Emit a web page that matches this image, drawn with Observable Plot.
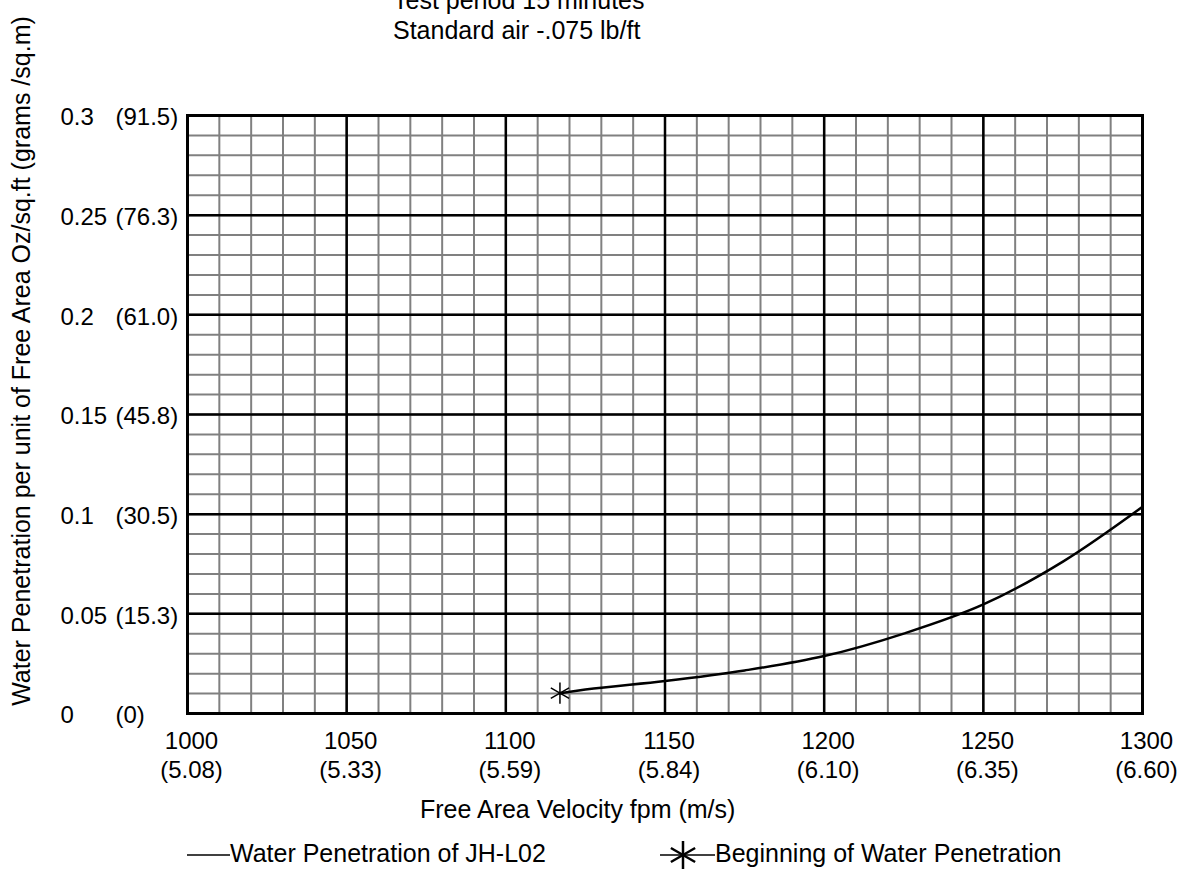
<!DOCTYPE html>
<html><head><meta charset="utf-8">
<script src="https://cdn.jsdelivr.net/npm/d3@7"></script>
<script src="https://cdn.jsdelivr.net/npm/@observablehq/plot@0.6"></script>
<style>
body{margin:0;background:#fff;font-family:Arial,"Liberation Sans",sans-serif;}
#wrap{position:relative;width:1190px;height:869px;overflow:hidden;background:#fff;}
#wrap svg.chart{position:absolute;left:0;top:0;}
.t{position:absolute;white-space:nowrap;font-size:25px;line-height:25px;color:#000;font-family:Arial,"Liberation Sans",sans-serif;}
.g{position:absolute;overflow:visible;}
</style></head><body><div id="wrap"></div>
<script>
// Data
const velocityFpm = [1117, 1125, 1150, 1175, 1200, 1225, 1250, 1275, 1300];
const penetration = [0.0102, 0.012, 0.0163, 0.0216, 0.0288, 0.0401, 0.0547, 0.0762, 0.1037];
const xTicks = [1000, 1050, 1100, 1150, 1200, 1250, 1300];
const xTickMs = ["(5.08)", "(5.33)", "(5.59)", "(5.84)", "(6.10)", "(6.35)", "(6.60)"];
const yTicks = [0, 0.05, 0.1, 0.15, 0.2, 0.25, 0.3];
const yTickOz = ["0", "0.05", "0.1", "0.15", "0.2", "0.25", "0.3"];
const yTickGrams = ["(0)", "(15.3)", "(30.5)", "(45.8)", "(61.0)", "(76.3)", "(91.5)"];
const titleLines = ["Test period 15 minutes", "Standard air -.075 lb/ft"];
const yTitle = "Water Penetration per unit of Free Area Oz/sq.ft  (grams /sq.m)";
const xTitle = "Free Area Velocity fpm (m/s)";
const legendLine = "Water Penetration of JH-L02";
const legendStart = "Beginning of Water Penetration";

const data = velocityFpm.map((v, i) => ({v, p: penetration[i]}));

const chart = Plot.plot({
  width: 1190,
  height: 869,
  marginLeft: 187,
  marginRight: 48,
  marginTop: 115,
  marginBottom: 156,
  style: {fontSize: "24px", fontFamily: "Arial, 'Liberation Sans', sans-serif", color: "#000", background: "transparent"},
  x: {domain: [1000, 1300]},
  y: {domain: [0, 0.3]},
  marks: [
    Plot.gridX({ticks: 30, stroke: "#808080", strokeOpacity: 1, strokeWidth: 2}),
    Plot.gridY({ticks: 30, stroke: "#808080", strokeOpacity: 1, strokeWidth: 2}),
    Plot.gridX({ticks: xTicks, stroke: "#000", strokeOpacity: 1, strokeWidth: 2.5}),
    Plot.gridY({ticks: yTicks, stroke: "#000", strokeOpacity: 1, strokeWidth: 2.5}),
    Plot.frame({stroke: "#000", strokeWidth: 3}),
    Plot.axisX({ticks: xTicks, tickSize: 0, tickPadding: 15, dx: 4, lineHeight: 1.2, label: null,
      tickFormat: d => d + "\n" + xTickMs[xTicks.indexOf(d)]}),
    Plot.axisY({ticks: yTicks, tickSize: 0, tickPadding: 0, textAnchor: "start", dx: 60 - 187, dy: 2, label: null,
      tickFormat: d => yTickOz[yTicks.indexOf(d)]}),
    Plot.axisY({ticks: yTicks, tickSize: 0, tickPadding: 0, textAnchor: "start", dx: 115 - 187, dy: 2, label: null,
      tickFormat: d => yTickGrams[yTicks.indexOf(d)]}),
    Plot.line(data, {x: "v", y: "p", curve: "monotone-x", stroke: "#000", strokeWidth: 2.5}),
    Plot.dot(data.slice(0, 1), {x: "v", y: "p", symbol: "asterisk", r: 10, stroke: "#000", strokeWidth: 1.5})
  ]
});
chart.classList.add("chart");
const wrap = document.getElementById("wrap");
wrap.appendChild(chart);

function addText(txt, left, top, extra) {
  const d = document.createElement("div");
  d.className = "t";
  d.textContent = txt;
  d.style.left = left + "px";
  d.style.top = top + "px";
  if (extra) Object.assign(d.style, extra);
  wrap.appendChild(d);
  return d;
}
addText(titleLines[0], 393, -12);
addText(titleLines[1], 393, 18);
addText(yTitle, 21, 361, {transform: "translate(-50%,-50%) rotate(-90deg)"});
addText(xTitle, 420, 797);
addText(legendLine, 230, 841);
addText(legendStart, 715, 841);

const ns = "http://www.w3.org/2000/svg";
function addSvg(left, top, w, h, inner) {
  const s = document.createElementNS(ns, "svg");
  s.setAttribute("class", "g");
  s.setAttribute("width", w);
  s.setAttribute("height", h);
  s.style.left = left + "px";
  s.style.top = top + "px";
  s.innerHTML = inner;
  wrap.appendChild(s);
}
addSvg(187, 843, 43, 24, '<line x1="0" x2="43" y1="12" y2="12" stroke="#000" stroke-width="1.5"/>');
const a = 14, cx = 23, cy = 20;
const dxA = (a * Math.sqrt(3) / 2).toFixed(2), dyA = (a / 2).toFixed(2);
addSvg(660, 835, 55, 40,
  `<line x1="0" x2="55" y1="${cy}" y2="${cy}" stroke="#000" stroke-width="1.5"/>` +
  `<g stroke="#000" stroke-width="2.5" transform="translate(${cx},${cy})">` +
  `<line x1="0" y1="${-a}" x2="0" y2="${a}"/>` +
  `<line x1="${-dxA}" y1="${-dyA}" x2="${dxA}" y2="${dyA}"/>` +
  `<line x1="${-dxA}" y1="${dyA}" x2="${dxA}" y2="${-dyA}"/></g>`);
</script></body></html>
